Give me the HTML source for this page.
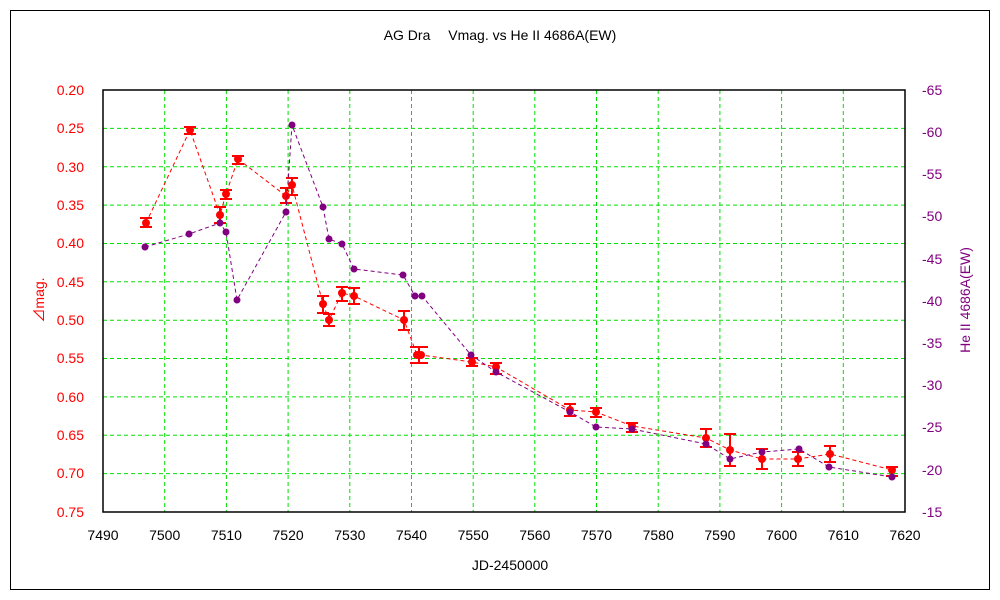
<!DOCTYPE html>
<html><head><meta charset="utf-8"><style>
html,body{margin:0;padding:0;background:#fff;}
svg{display:block;font-family:"Liberation Sans","Noto Sans CJK JP",sans-serif;}
</style></head><body>
<svg width="1000" height="600" viewBox="0 0 1000 600">
<rect x="10.5" y="10.5" width="979" height="579" fill="#fff" stroke="#000" stroke-width="1"/>
<text x="500" y="40" font-size="14" text-anchor="middle">AG Dra　 Vmag.  vs  He II 4686A(EW)</text>
<g stroke="#00e000" stroke-width="1" stroke-dasharray="4,3">
<line x1="164.7" y1="90" x2="164.7" y2="512"/><line x1="226.4" y1="90" x2="226.4" y2="512"/>
<line x1="288.1" y1="90" x2="288.1" y2="512"/><line x1="349.8" y1="90" x2="349.8" y2="512"/>
<line x1="411.5" y1="90" x2="411.5" y2="512"/><line x1="473.2" y1="90" x2="473.2" y2="512"/>
<line x1="534.8" y1="90" x2="534.8" y2="512"/><line x1="596.5" y1="90" x2="596.5" y2="512"/>
<line x1="658.2" y1="90" x2="658.2" y2="512"/><line x1="719.9" y1="90" x2="719.9" y2="512"/>
<line x1="781.6" y1="90" x2="781.6" y2="512"/><line x1="843.3" y1="90" x2="843.3" y2="512"/>
<line x1="103" y1="128.4" x2="905" y2="128.4"/><line x1="103" y1="166.7" x2="905" y2="166.7"/>
<line x1="103" y1="205.1" x2="905" y2="205.1"/><line x1="103" y1="243.5" x2="905" y2="243.5"/>
<line x1="103" y1="281.8" x2="905" y2="281.8"/><line x1="103" y1="320.2" x2="905" y2="320.2"/>
<line x1="103" y1="358.5" x2="905" y2="358.5"/><line x1="103" y1="396.9" x2="905" y2="396.9"/>
<line x1="103" y1="435.3" x2="905" y2="435.3"/><line x1="103" y1="473.6" x2="905" y2="473.6"/>
</g>
<rect x="103" y="90" width="802" height="422" fill="none" stroke="#000" stroke-width="1.5"/>
<g font-size="14" fill="#f00" text-anchor="end">
<text x="84" y="95">0.20</text><text x="84" y="133">0.25</text><text x="84" y="172">0.30</text>
<text x="84" y="210">0.35</text><text x="84" y="248">0.40</text><text x="84" y="287">0.45</text>
<text x="84" y="325">0.50</text><text x="84" y="363">0.55</text><text x="84" y="402">0.60</text>
<text x="84" y="440">0.65</text><text x="84" y="478">0.70</text><text x="84" y="517">0.75</text>
</g>
<g font-size="14" fill="#800080" text-anchor="start">
<text x="922" y="95">-65</text><text x="922" y="137">-60</text><text x="922" y="179">-55</text>
<text x="922" y="221">-50</text><text x="922" y="264">-45</text><text x="922" y="306">-40</text>
<text x="922" y="348">-35</text><text x="922" y="390">-30</text><text x="922" y="432">-25</text>
<text x="922" y="475">-20</text><text x="922" y="517">-15</text>
</g>
<g font-size="14" text-anchor="middle">
<text x="103" y="540">7490</text><text x="164.7" y="540">7500</text><text x="226.4" y="540">7510</text>
<text x="288.1" y="540">7520</text><text x="349.8" y="540">7530</text><text x="411.5" y="540">7540</text>
<text x="473.2" y="540">7550</text><text x="534.8" y="540">7560</text><text x="596.5" y="540">7570</text>
<text x="658.2" y="540">7580</text><text x="719.9" y="540">7590</text><text x="781.6" y="540">7600</text>
<text x="843.3" y="540">7610</text><text x="905" y="540">7620</text>
</g>
<text x="510" y="570" font-size="14" text-anchor="middle">JD-2450000</text>
<text transform="translate(44,300) rotate(-90)" font-size="14" fill="#f00" text-anchor="middle">⊿mag.</text>
<text transform="translate(970,300) rotate(-90)" font-size="14" fill="#800080" text-anchor="middle">He II 4686A(EW)</text>

<polyline fill="none" stroke="#f00" stroke-width="1" stroke-dasharray="4,3" points="146,223 190,130 220,215 226,194 238,159 286,196 292,185 323,304 329,320 342,293 354,296 404,320 417,355 421,355 472,362 496,367 570,410 596,412 632,426 706,438 730,450 762,459 798,459 830,454 892,470"/>
<g stroke="#f00" stroke-width="2" fill="none">
<path d="M146,218V227M140,218H152M140,227H152"/>
<path d="M190,127V134M184,127H196M184,134H196"/>
<path d="M220,207V223M214,207H226M214,223H226"/>
<path d="M226,190V199M220,190H232M220,199H232"/>
<path d="M238,156V164M232,156H244M232,164H244"/>
<path d="M286,188V203M280,188H292M280,203H292"/>
<path d="M292,178V195M286,178H298M286,195H298"/>
<path d="M323,296V313M317,296H329M317,313H329"/>
<path d="M329,314V326M323,314H335M323,326H335"/>
<path d="M342,287V301M336,287H348M336,301H348"/>
<path d="M354,288V304M348,288H360M348,304H360"/>
<path d="M404,311V330M398,311H410M398,330H410"/>
<path d="M419,347V363M410,347H428M410,363H428"/>
<path d="M472,358V366M466,358H478M466,366H478"/>
<path d="M496,363V374M490,363H502M490,374H502"/>
<path d="M570,404V416M564,404H576M564,416H576"/>
<path d="M596,408V417M590,408H602M590,417H602"/>
<path d="M632,423V432M626,423H638M626,432H638"/>
<path d="M706,429V447M700,429H712M700,447H712"/>
<path d="M730,434V466M724,434H736M724,466H736"/>
<path d="M762,449V469M756,449H768M756,469H768"/>
<path d="M798,452V466M792,452H804M792,466H804"/>
<path d="M830,446V462M824,446H836M824,462H836"/>
<path d="M892,467V476M886,467H898M886,476H898"/>
</g>
<g fill="#f00">
<circle cx="146" cy="223" r="4"/><circle cx="190" cy="130" r="4"/><circle cx="220" cy="215" r="4"/><circle cx="226" cy="194" r="4"/><circle cx="238" cy="159" r="4"/><circle cx="286" cy="196" r="4"/><circle cx="292" cy="185" r="4"/><circle cx="323" cy="304" r="4"/><circle cx="329" cy="320" r="4"/><circle cx="342" cy="293" r="4"/><circle cx="354" cy="296" r="4"/><circle cx="404" cy="320" r="4"/><circle cx="417" cy="355" r="4"/><circle cx="421" cy="355" r="4"/><circle cx="472" cy="362" r="4"/><circle cx="496" cy="367" r="4"/><circle cx="570" cy="410" r="4"/><circle cx="596" cy="412" r="4"/><circle cx="632" cy="426" r="4"/><circle cx="706" cy="438" r="4"/><circle cx="730" cy="450" r="4"/><circle cx="762" cy="459" r="4"/><circle cx="798" cy="459" r="4"/><circle cx="830" cy="454" r="4"/><circle cx="892" cy="470" r="4"/>
</g>

<polyline fill="none" stroke="#800080" stroke-width="1" stroke-dasharray="4,3" points="145,247 189,234 220,223 226,232 237,300 286,212 292,125 323,207 329,239 342,244 354,269 403,275 415,296 422,296 471,355 496,372 570,412 596,427 632,429 706,444 730,459 762,452 799,449 829,467 892,477"/>
<g fill="#800080">
<circle cx="145" cy="247" r="3.5"/><circle cx="189" cy="234" r="3.5"/><circle cx="220" cy="223" r="3.5"/><circle cx="226" cy="232" r="3.5"/><circle cx="237" cy="300" r="3.5"/><circle cx="286" cy="212" r="3.5"/><circle cx="292" cy="125" r="3.5"/><circle cx="323" cy="207" r="3.5"/><circle cx="329" cy="239" r="3.5"/><circle cx="342" cy="244" r="3.5"/><circle cx="354" cy="269" r="3.5"/><circle cx="403" cy="275" r="3.5"/><circle cx="415" cy="296" r="3.5"/><circle cx="422" cy="296" r="3.5"/><circle cx="471" cy="355" r="3.5"/><circle cx="496" cy="372" r="3.5"/><circle cx="570" cy="412" r="3.5"/><circle cx="596" cy="427" r="3.5"/><circle cx="632" cy="429" r="3.5"/><circle cx="706" cy="444" r="3.5"/><circle cx="730" cy="459" r="3.5"/><circle cx="762" cy="452" r="3.5"/><circle cx="799" cy="449" r="3.5"/><circle cx="829" cy="467" r="3.5"/><circle cx="892" cy="477" r="3.5"/>
</g>
</svg>
</body></html>
